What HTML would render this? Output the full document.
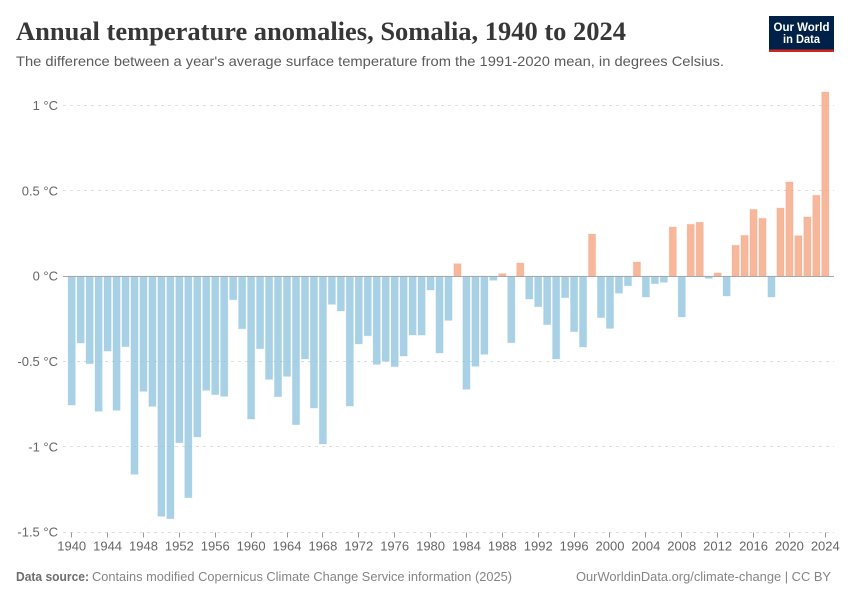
<!DOCTYPE html>
<html lang="en">
<head>
<meta charset="utf-8">
<title>Annual temperature anomalies, Somalia, 1940 to 2024</title>
<style>
html,body{margin:0;padding:0;background:#fff;}
svg{display:block;font-family:"Liberation Sans",sans-serif;}
</style>
</head>
<body>
<svg id="chart" width="850" height="600" viewBox="0 0 850 600" xmlns="http://www.w3.org/2000/svg">
  <rect x="0" y="0" width="850" height="600" fill="#ffffff"/>
  <text x="16" y="40" font-family="'Liberation Serif',serif" font-weight="700" font-size="26" fill="#373737" textLength="610" lengthAdjust="spacingAndGlyphs">Annual temperature anomalies, Somalia, 1940 to 2024</text>
  <text x="16" y="66" font-size="14" fill="#5b5b5b" textLength="708" lengthAdjust="spacingAndGlyphs">The difference between a year's average surface temperature from the 1991-2020 mean, in degrees Celsius.</text>

  <g>
    <rect x="769" y="16" width="65" height="36" fill="#002147"/>
    <rect x="769" y="49.5" width="65" height="2.5" fill="#ce261e"/>
    <text x="801.5" y="31" text-anchor="middle" font-size="11.5" font-weight="700" fill="#ffffff" textLength="56" lengthAdjust="spacingAndGlyphs">Our World</text>
    <text x="801.5" y="43" text-anchor="middle" font-size="11.5" font-weight="700" fill="#ffffff" textLength="37" lengthAdjust="spacingAndGlyphs">in Data</text>
  </g>

  <g id="grid"></g>
  <g id="bars"></g>
  <g id="axes"></g>

  <text x="16" y="581" font-size="12.5" font-weight="700" fill="#6e6e6e" textLength="73" lengthAdjust="spacingAndGlyphs">Data source:</text>
  <text x="92" y="581" font-size="12.5" fill="#858585" textLength="420" lengthAdjust="spacingAndGlyphs">Contains modified Copernicus Climate Change Service information (2025)</text>
  <text x="576" y="581" font-size="12.5" fill="#858585" textLength="255" lengthAdjust="spacingAndGlyphs">OurWorldinData.org/climate-change | CC BY</text>
</svg>
<script>
const firstYear = 1940;
const anomalies = [
  -0.756,-0.393,-0.514,-0.793,-0.44,-0.787,-0.414,-1.162,-0.676,-0.764,
  -1.408,-1.422,-0.977,-1.299,-0.943,-0.67,-0.695,-0.705,-0.139,-0.309,
  -0.838,-0.426,-0.606,-0.707,-0.588,-0.871,-0.486,-0.773,-0.984,-0.166,
  -0.205,-0.762,-0.398,-0.35,-0.518,-0.5,-0.531,-0.469,-0.346,-0.346,
  -0.082,-0.451,-0.26,0.072,-0.664,-0.529,-0.459,-0.025,0.014,-0.391,
  0.076,-0.135,-0.18,-0.285,-0.486,-0.127,-0.326,-0.416,0.246,-0.244,
  -0.307,-0.101,-0.057,0.082,-0.123,-0.045,-0.037,0.287,-0.24,0.303,
  0.315,-0.014,0.018,-0.117,0.18,0.238,0.39,0.338,-0.123,0.398,
  0.551,0.236,0.346,0.473,1.078
];
const yTickValues = [1, 0.5, 0, -0.5, -1, -1.5];
const yTickLabels = ["1 °C", "0.5 °C", "0 °C", "-0.5 °C", "-1 °C", "-1.5 °C"];
const xTickYears = [1940,1944,1948,1952,1956,1960,1964,1968,1972,1976,1980,1984,1988,1992,1996,2000,2004,2008,2012,2016,2020,2024];

const NS = "http://www.w3.org/2000/svg";
const plotLeft = 63, plotRight = 834;
const xScale = year => 71.7 + (year - firstYear) * (825.3 - 71.7) / 84;
const yScale = value => 276 - value * 170.67;
const crisp = p => Math.floor(p) + 0.5;
const barWidth = 7.2;

function make(tag, attrs, parent, text) {
  const el = document.createElementNS(NS, tag);
  for (const k in attrs) el.setAttribute(k, attrs[k]);
  if (text !== undefined) el.textContent = text;
  parent.appendChild(el);
  return el;
}

const grid = document.getElementById("grid");
const bars = document.getElementById("bars");
const axes = document.getElementById("axes");

yTickValues.forEach((v, i) => {
  const y = yScale(v);
  if (v !== 0) {
    const line = make("line", {x1: plotLeft, x2: plotRight, y1: crisp(y), y2: crisp(y), stroke: "#dddddd", "stroke-width": 1, "stroke-dasharray": "3,4"}, grid);
    
    
  }
  const label = make("text", {x: 58, y: y + 4.7, "text-anchor": "end", "font-size": 13, fill: "#666666"}, axes, yTickLabels[i]);
  
  
});

anomalies.forEach((v, i) => {
  const year = firstYear + i;
  const x = xScale(year) - barWidth / 2;
  const y0 = yScale(0), y1 = yScale(v);
  const color = v >= 0 ? "#f5a582" : "#94c6e0";
  const bar = make("rect", {
    x: x, y: Math.min(y0, y1), width: barWidth, height: Math.abs(y1 - y0),
    fill: color, "fill-opacity": 0.8, stroke: color, "stroke-opacity": 0.25, "stroke-width": 1
  }, bars);
  
  
});

const zero = make("line", {x1: plotLeft, x2: plotRight, y1: crisp(yScale(0)), y2: crisp(yScale(0)), stroke: "#a8a8a8", "stroke-width": 1}, axes);



xTickYears.forEach(year => {
  const x = crisp(xScale(year));
  const tick = make("line", {x1: x, x2: x, y1: crisp(yScale(-1.5)), y2: crisp(yScale(-1.5)) + 5, stroke: "#999999", "stroke-width": 1}, axes);
  
  
  const label = make("text", {x: xScale(year), y: 550.5, "text-anchor": "middle", "font-size": 13, fill: "#666666"}, axes, String(year));
  
  
});
</script>
</body>
</html>
